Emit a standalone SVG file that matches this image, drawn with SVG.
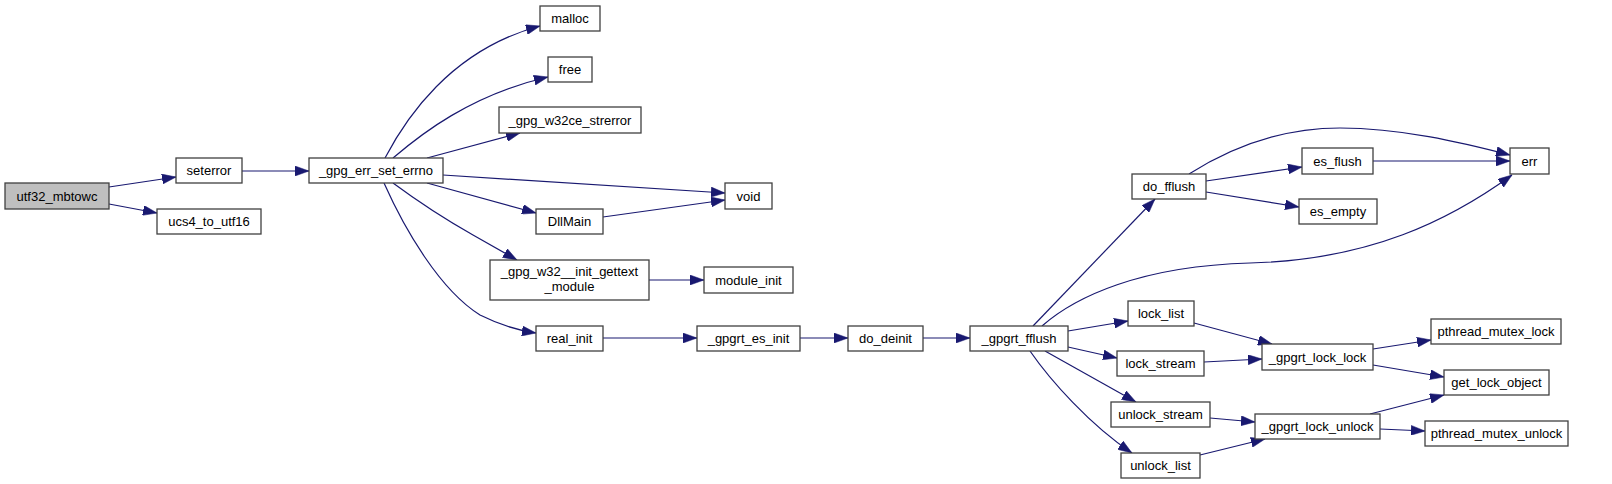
<svg xmlns="http://www.w3.org/2000/svg" width="1612" height="484" viewBox="0 0 1612 484">
<style>
.n rect{fill:#ffffff;stroke:#404040;stroke-width:1.3}
.n text{font-family:"Liberation Sans",Arial,sans-serif;font-size:13px;fill:#000;text-anchor:middle}
#edges path{fill:none;stroke:#191970;stroke-width:1.2;marker-end:url(#arr)}
</style>
<defs>
<marker id="arr" markerUnits="userSpaceOnUse" markerWidth="14" markerHeight="10" refX="14" refY="5" orient="auto" viewBox="0 0 14 10">
<path d="M0,0 L14,5 L0,10 z" fill="#191970" stroke="#191970" stroke-width="0.5"/>
</marker>
</defs>
<rect width="1612" height="484" fill="#ffffff"/>
<g id="edges">
<path d="M109,187 L176,177"/>
<path d="M109,204 L157,213"/>
<path d="M242,171 L309,171"/>
<path d="M385,158 C405,120 450,50 540,26"/>
<path d="M393,158 C420,135 470,95 548,77"/>
<path d="M427,158 L520,133"/>
<path d="M443,175 L725,193"/>
<path d="M427,183 L536,213"/>
<path d="M393,183 C420,203 450,222 473,235 L517,260"/>
<path d="M384,183 C405,230 440,290 480,315 C500,325 515,330 536,333"/>
<path d="M649,280 L704,280"/>
<path d="M603,338 L697,338"/>
<path d="M800,338 L848,338"/>
<path d="M923,338 L970,338"/>
<path d="M603,217 L725,200"/>
<path d="M1033,326 L1155,199"/>
<path d="M1042,326 C1075,297 1140,266 1250,263 C1370,260 1450,220 1512,175"/>
<path d="M1189,174 C1230,148 1280,128 1340,128 C1400,128 1460,142 1510,155"/>
<path d="M1206,181 L1302,167"/>
<path d="M1206,192 L1299,207"/>
<path d="M1373,161 L1510,161"/>
<path d="M1068,331 L1128,321"/>
<path d="M1068,347 L1117,358"/>
<path d="M1045,351 L1136,402"/>
<path d="M1030,351 C1050,380 1090,425 1132,453"/>
<path d="M1194,323 L1272,344"/>
<path d="M1204,362 L1262,359"/>
<path d="M1373,349 L1431,340"/>
<path d="M1373,365 L1444,377"/>
<path d="M1210,418 L1255,422"/>
<path d="M1200,455 L1265,439"/>
<path d="M1370,414 L1444,395"/>
<path d="M1380,429 L1425,431"/>
</g>
<g id="utf32_mbtowc" class="n"><rect x="5" y="183" width="104" height="26" style="fill:#bfbfbf"/><text x="57" y="200.5">utf32_mbtowc</text></g>
<g id="seterror" class="n"><rect x="176" y="158" width="66" height="25"/><text x="209" y="175">seterror</text></g>
<g id="ucs4_to_utf16" class="n"><rect x="157" y="209" width="104" height="25"/><text x="209" y="226">ucs4_to_utf16</text></g>
<g id="_gpg_err_set_errno" class="n"><rect x="309" y="158" width="134" height="25"/><text x="376" y="175">_gpg_err_set_errno</text></g>
<g id="malloc" class="n"><rect x="540" y="6" width="60" height="25"/><text x="570" y="23">malloc</text></g>
<g id="free" class="n"><rect x="548" y="57" width="44" height="25"/><text x="570" y="74">free</text></g>
<g id="_gpg_w32ce_strerror" class="n"><rect x="499" y="107" width="142" height="26"/><text x="570" y="124.5">_gpg_w32ce_strerror</text></g>
<g id="void" class="n"><rect x="725" y="183" width="47" height="26"/><text x="748.5" y="200.5">void</text></g>
<g id="DllMain" class="n"><rect x="536" y="209" width="67" height="25"/><text x="569.5" y="226">DllMain</text></g>
<g id="_gpg_w32__init_gettext_module" class="n"><rect x="490" y="260" width="159" height="40"/><text x="569.5" y="276">_gpg_w32__init_gettext</text><text x="569.5" y="291">_module</text></g>
<g id="module_init" class="n"><rect x="704" y="267" width="89" height="26"/><text x="748.5" y="284.5">module_init</text></g>
<g id="real_init" class="n"><rect x="536" y="326" width="67" height="25"/><text x="569.5" y="343">real_init</text></g>
<g id="_gpgrt_es_init" class="n"><rect x="697" y="326" width="103" height="25"/><text x="748.5" y="343">_gpgrt_es_init</text></g>
<g id="do_deinit" class="n"><rect x="848" y="326" width="75" height="25"/><text x="885.5" y="343">do_deinit</text></g>
<g id="_gpgrt_fflush" class="n"><rect x="970" y="326" width="98" height="25"/><text x="1019" y="343">_gpgrt_fflush</text></g>
<g id="do_fflush" class="n"><rect x="1132" y="174" width="74" height="25"/><text x="1169" y="191">do_fflush</text></g>
<g id="es_flush" class="n"><rect x="1302" y="148" width="71" height="26"/><text x="1337.5" y="165.5">es_flush</text></g>
<g id="es_empty" class="n"><rect x="1299" y="199" width="78" height="25"/><text x="1338" y="216">es_empty</text></g>
<g id="err" class="n"><rect x="1510" y="148" width="39" height="26"/><text x="1529.5" y="165.5">err</text></g>
<g id="lock_list" class="n"><rect x="1128" y="301" width="66" height="25"/><text x="1161" y="318">lock_list</text></g>
<g id="lock_stream" class="n"><rect x="1117" y="351" width="87" height="25"/><text x="1160.5" y="368">lock_stream</text></g>
<g id="unlock_stream" class="n"><rect x="1111" y="402" width="99" height="25"/><text x="1160.5" y="419">unlock_stream</text></g>
<g id="unlock_list" class="n"><rect x="1121" y="453" width="79" height="25"/><text x="1160.5" y="470">unlock_list</text></g>
<g id="_gpgrt_lock_lock" class="n"><rect x="1262" y="344" width="111" height="26"/><text x="1317.5" y="361.5">_gpgrt_lock_lock</text></g>
<g id="_gpgrt_lock_unlock" class="n"><rect x="1255" y="414" width="125" height="25"/><text x="1317.5" y="431">_gpgrt_lock_unlock</text></g>
<g id="pthread_mutex_lock" class="n"><rect x="1431" y="319" width="130" height="25"/><text x="1496" y="336">pthread_mutex_lock</text></g>
<g id="get_lock_object" class="n"><rect x="1444" y="370" width="105" height="25"/><text x="1496.5" y="387">get_lock_object</text></g>
<g id="pthread_mutex_unlock" class="n"><rect x="1425" y="421" width="143" height="25"/><text x="1496.5" y="438">pthread_mutex_unlock</text></g>
</svg>
